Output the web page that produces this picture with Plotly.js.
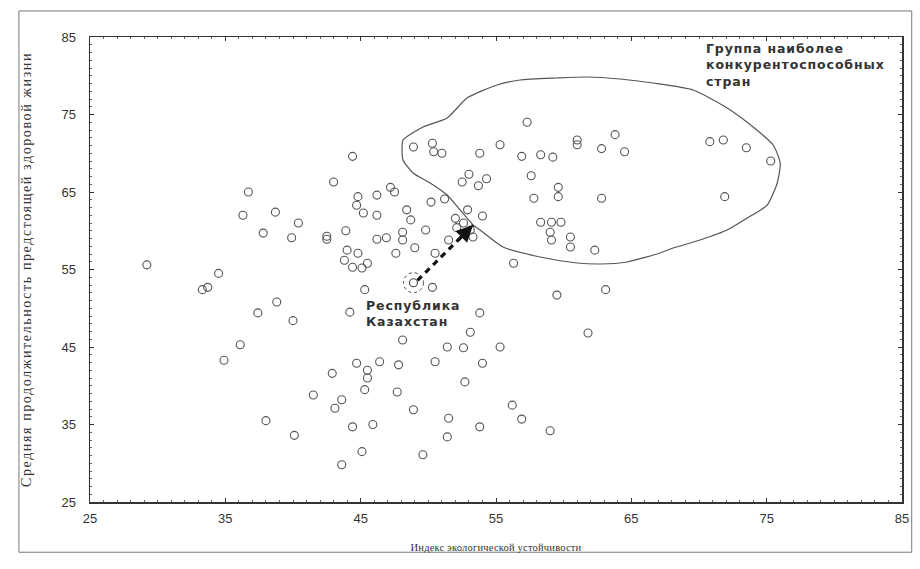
<!DOCTYPE html>
<html>
<head>
<meta charset="utf-8">
<script src="https://cdn.plot.ly/plotly-3.0.1.min.js"></script>
<style>
html,body{margin:0;padding:0;background:#fff;}
#chart{width:920px;height:569px;}
#chart .ytitle{letter-spacing:1.6px;}
#chart .xtitle{letter-spacing:0.2px;}
#chart .annotation-text{letter-spacing:0.9px;}
</style>
</head>
<body>
<div id="chart"></div>
<script>
// Индекс экологической устойчивости (x) / продолжительность здоровой жизни (y)
const xs = [
44.4,43.0,36.7,36.3,38.7,40.4,37.8,39.9,42.5,42.5,43.9,44.8,44.7,45.2,46.2,46.2,46.2,44.0,44.8,43.8,45.5,44.4,29.2,
48.9,50.3,50.4,51.0,53.8,55.3,56.9,57.3,58.3,59.2,61.0,61.0,62.8,63.8,64.5,57.6,57.8,59.6,59.6,62.8,53.0,52.5,54.3,53.7,
58.3,59.1,59.8,59.0,59.1,60.5,60.5,62.3,56.3,50.2,51.2,48.4,48.7,48.1,48.1,46.9,47.2,47.5,49.8,52.0,52.9,54.0,52.1,52.6,53.1,53.3,51.5,49.0,47.6,50.5,
45.1,50.3,45.3,
44.2,53.8,53.1,48.1,51.4,52.6,55.3,54.0,50.5,47.8,46.4,44.7,45.5,45.5,42.9,45.3,47.7,52.7,41.5,43.6,43.1,48.9,51.5,53.8,44.4,45.9,51.4,45.1,49.6,43.6,
59.5,63.1,61.8,56.2,56.9,59.0,
34.5,33.3,33.7,38.8,37.4,40.0,36.1,34.9,38.0,40.1,
70.8,71.8,73.5,75.3,71.9
];
const ys = [
69.6,66.3,65.0,62.0,62.4,61.0,59.7,59.1,59.3,58.9,60.0,64.4,63.3,62.3,64.6,62.0,58.9,57.5,57.1,56.2,55.8,55.3,55.6,
70.8,71.3,70.2,70.0,70.0,71.1,69.6,74.0,69.8,69.5,71.7,71.1,70.6,72.4,70.2,67.1,64.2,65.6,64.4,64.2,67.3,66.3,66.7,65.8,
61.1,61.1,61.1,59.8,58.8,59.2,57.9,57.5,55.8,63.7,64.1,62.7,61.4,59.8,58.8,59.1,65.6,65.0,60.1,61.6,62.7,61.9,60.4,61.0,60.1,59.2,58.8,57.8,57.1,57.1,
55.2,52.7,52.4,
49.5,49.4,46.9,45.9,45.0,44.9,45.0,42.9,43.1,42.7,43.1,42.9,42.0,41.0,41.6,39.5,39.2,40.5,38.8,38.2,37.1,36.9,35.8,34.7,34.7,35.0,33.4,31.5,31.1,29.8,
51.7,52.4,46.8,37.5,35.7,34.2,
54.5,52.4,52.7,50.8,49.4,48.4,45.3,43.3,35.5,33.6,
71.5,71.7,70.7,69.0,64.4
];
// Республика Казахстан
const kzX = [48.9];
const kzY = [53.3];
// Arrow: from Kazakhstan towards the group
const arrowX = [49.2, 53.3];
const arrowY = [53.6, 60.7];
// Outline of the most competitive group
const groupX = [48.06,48.13,49.61,51.39,52.86,55.08,56.78,59.52,61.73,64.17,66.61,69.57,72.08,74.00,75.48,76.00,75.78,75.04,73.56,72.08,70.08,68.09,67.13,64.69,62.69,61.0,58.26,55.52,53.82,53.31,52.35,51.39,50.13,48.87,48.13,48.06];
const groupY = [70.81,71.71,73.39,74.55,77.13,78.81,79.45,79.71,79.84,79.58,79.06,78.16,75.84,73.39,71.06,68.74,66.16,63.32,61.65,60.10,58.81,57.77,57.13,55.97,55.71,55.84,56.61,57.90,60.10,60.74,62.68,64.61,66.16,67.45,69.13,70.81];
const ticks = [25,35,45,55,65,75,85];
const xTitle = 'Индекс экологической устойчивости';
const yTitle = 'Средняя продолжительность предстоящей здоровой жизни';
const groupLabel = 'Группа наиболее<br>конкурентоспособных<br>стран';
const kzLabel = 'Республика<br>Казахстан';

const traces = [
  {x: groupX, y: groupY, mode: 'lines', line: {color: '#555', width: 1.2, shape: 'spline', smoothing: 0.6}, hoverinfo: 'skip', showlegend: false},
  {x: xs, y: ys, mode: 'markers', marker: {symbol: 'circle-open', size: 8, color: '#555', line: {width: 1.1, color: '#555'}}, showlegend: false},
  {x: kzX, y: kzY, mode: 'markers', marker: {symbol: 'circle-open', size: 8, color: '#444', line: {width: 1.1}}, showlegend: false},
  {x: arrowX, y: arrowY, mode: 'lines', line: {color: '#111', width: 3.2, dash: '6px,5px'}, showlegend: false, hoverinfo: 'skip'}
];

const axisCommon = {
  range: [ticks[0], ticks[ticks.length-1]], tickmode: 'linear', tick0: ticks[0], dtick: ticks[1]-ticks[0],
  showgrid: false, zeroline: false, showline: true, linecolor: '#333', linewidth: 1.5, mirror: 'allticks',
  ticks: 'inside', ticklen: 4, tickcolor: '#333',
  minor: {dtick: 1, ticks: 'inside', ticklen: 2, tickcolor: '#666', showgrid: false},
  tickfont: {family: 'Liberation Sans Narrow, Liberation Sans, Arial', size: 13, color: '#333'}
};

const annFont = {family: 'DejaVu Sans, Liberation Sans, Arial', size: 12.5, color: '#333'};

const layout = {
  width: 920, height: 569, autosize: false,
  margin: {l: 90, r: 18, t: 37, b: 67},
  paper_bgcolor: '#fff', plot_bgcolor: '#fff',
  xaxis: Object.assign({}, axisCommon, {
    ticklabelstandoff: 4,
    title: {text: xTitle, font: {family: 'Liberation Serif, DejaVu Serif, serif', size: 10.5, color: '#333'}, standoff: 18}
  }),
  yaxis: Object.assign({}, axisCommon, {
    ticklabelstandoff: 10,
    title: {text: yTitle, font: {family: 'Liberation Serif, DejaVu Serif, serif', size: 14, color: '#333'}, standoff: 26}
  }),
  shapes: [
    {type: 'rect', xref: 'paper', yref: 'paper', x0: -0.0875, x1: 1.012, y0: -0.108, y1: 1.056, line: {color: '#777', width: 1}},
    {type: 'circle', xref: 'x', yref: 'y', xsizemode: 'pixel', ysizemode: 'pixel', xanchor: kzX[0], yanchor: kzY[0],
     x0: -10, x1: 10, y0: -10, y1: 10, line: {color: '#444', width: 1, dash: 'dot'}}
  ],
  annotations: [
    {x: arrowX[1], y: arrowY[1], ax: arrowX[0] + (arrowX[1]-arrowX[0])*0.7, ay: arrowY[0] + (arrowY[1]-arrowY[0])*0.7,
     xref: 'x', yref: 'y', axref: 'x', ayref: 'y', showarrow: true, arrowhead: 2, arrowsize: 1.1, arrowwidth: 3, arrowcolor: '#111', text: ''},
    {x: kzX[0], y: kzY[0], xref: 'x', yref: 'y', text: '<b>' + kzLabel + '</b>', showarrow: false, xanchor: 'left', yanchor: 'top',
     xshift: -49, yshift: -13, align: 'left', font: annFont},
    {x: 0.756, y: 0.996, xref: 'paper', yref: 'paper', text: '<b>' + groupLabel + '</b>', showarrow: false, xanchor: 'left', yanchor: 'top',
     align: 'left', font: annFont}
  ]
};

Plotly.newPlot('chart', traces, layout, {staticPlot: true, displayModeBar: false});
</script>
</body>
</html>
